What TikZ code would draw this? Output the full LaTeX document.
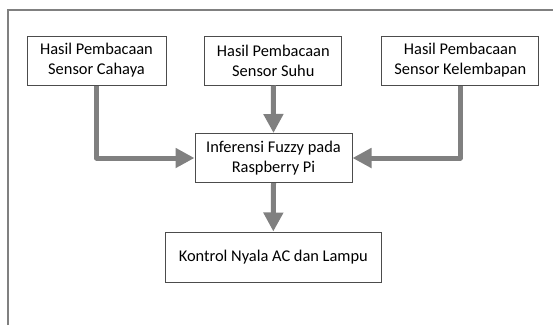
\documentclass[tikz,border=0pt]{standalone}
\usepackage{fontspec}
\setmainfont{Carlito}
\usetikzlibrary{arrows.meta}

\tikzset{
	kotak/.style={draw=black!70, line width=1pt, fill=white, align=center, inner sep=0pt,
		minimum height=49pt, font=\fontsize{16.4}{20}\selectfont},
	panah/.style={draw=black!50, line width=5pt, line join=round,
		-{Triangle[width=19pt,length=19pt]}}
}

\begin{document}
\begin{tikzpicture}[x=1pt,y=-1pt]
				\useasboundingbox (0,0) rectangle (553,325);
				\draw[black!50, line width=1.8pt] (8,325) -- (8,10) -- (553,10);
				\node[kotak, minimum width=139pt] (cahaya) at (96.5,60.5) {Hasil Pembacaan\\Sensor Cahaya};
				\node[kotak, minimum width=137pt] (suhu) at (273.3,60.5) {Hasil Pembacaan\\Sensor Suhu};
				\node[kotak, minimum width=157pt] (lembab) at (460.3,60.5) {Hasil Pembacaan\\Sensor Kelembapan};
				\node[kotak, minimum width=157pt] (fuzzy) at (273.5,158) {Inferensi Fuzzy pada\\Raspberry Pi};
				\node[kotak, minimum width=216pt, minimum height=50pt] (kontrol) at (273.3,257) {Kontrol Nyala AC dan Lampu};
				\draw[panah] (cahaya.south) |- (fuzzy.west);
				\draw[panah] (suhu.south) -- (fuzzy.north);
				\draw[panah] (lembab.south) |- (fuzzy.east);
				\draw[panah] (fuzzy.south) -- (kontrol.north);
			\end{tikzpicture}
\end{document}
